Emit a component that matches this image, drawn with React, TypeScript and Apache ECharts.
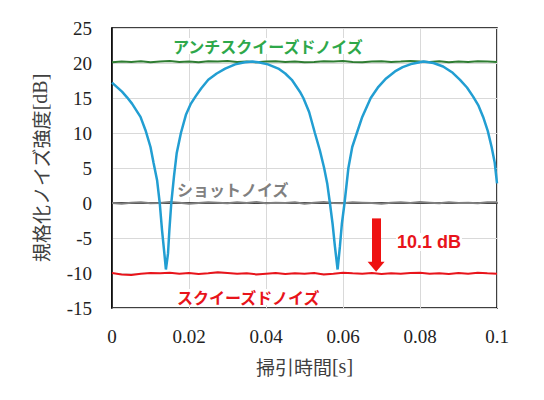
import React, { useEffect, useRef } from "react";
import * as echarts from "echarts";

const flatX = [
  0, 0.0025, 0.005, 0.0075, 0.01, 0.0125, 0.015, 0.0175, 0.02, 0.0225,
  0.025, 0.0275, 0.03, 0.0325, 0.035, 0.0375, 0.04, 0.0425, 0.045, 0.0475,
  0.05, 0.0525, 0.055, 0.0575, 0.06, 0.0625, 0.065, 0.0675, 0.07, 0.0725,
  0.075, 0.0775, 0.08, 0.0825, 0.085, 0.0875, 0.09, 0.0925, 0.095, 0.0975, 0.1,
];

const antiSqueezed = [
  20.1, 20.2, 20.15, 20.25, 20.1, 20.2, 20.3, 20.15, 20.2, 20.1,
  20.25, 20.2, 20.3, 20.15, 20.2, 20.1, 20.2, 20.25, 20.15, 20.2,
  20.1, 20.15, 20.25, 20.2, 20.3, 20.15, 20.1, 20.2, 20.25, 20.15,
  20.2, 20.3, 20.2, 20.15, 20.25, 20.1, 20.2, 20.15, 20.25, 20.2, 20.15,
];

const shotNoise = [
  0.0, -0.1, 0.05, 0.1, -0.05, 0.0, 0.15, 0.05, -0.1, 0.0,
  0.1, 0.05, -0.05, 0.1, 0.0, 0.15, -0.05, 0.05, 0.0, 0.1,
  -0.1, 0.05, 0.15, 0.0, -0.05, 0.1, 0.05, 0.0, -0.1, 0.05,
  0.1, 0.0, 0.15, 0.05, -0.05, 0.1, 0.0, 0.05, -0.05, 0.1, 0.1,
];

const squeezed = [
  -10.0, -10.2, -10.3, -10.1, -10.0, -10.05, -9.95, -10.1, -10.0, -10.15,
  -10.05, -9.9, -10.0, -10.1, -10.05, -10.2, -10.1, -10.0, -10.15, -10.05,
  -10.1, -10.0, -10.2, -10.1, -9.95, -10.05, -10.1, -10.0, -10.15, -10.05,
  -10.1, -10.0, -9.95, -10.1, -10.05, -10.15, -10.0, -10.1, -9.95, -10.05, -10.1,
];

const sweepX = [
  0, 0.0026, 0.0039, 0.0052, 0.0074, 0.0087, 0.01, 0.0108, 0.0117, 0.0124,
  0.013, 0.0136, 0.014, 0.01455, 0.0149, 0.0154, 0.0161, 0.0168, 0.0179, 0.0192,
  0.0205, 0.0218, 0.0232, 0.025, 0.0272, 0.0294, 0.032, 0.0345, 0.0365, 0.038,
  0.0405, 0.0432, 0.045, 0.0467, 0.0488, 0.0497, 0.0512, 0.0527, 0.054, 0.0551,
  0.0559, 0.0566, 0.0573, 0.0579, 0.0586, 0.0592, 0.0597, 0.0604, 0.0614, 0.0624,
  0.0636, 0.065, 0.0672, 0.0692, 0.0712, 0.0735, 0.0755, 0.078, 0.0809, 0.0835,
  0.086, 0.0885, 0.0904, 0.0922, 0.0938, 0.0952, 0.0964, 0.0976, 0.0986, 0.0994,
  0.1,
];
const sweepY = [
  17.2, 15.9, 15.1, 14.2, 12.3, 10.4, 8.0, 5.7, 3.3, 0.0,
  -3.9, -7.2, -9.5, -7.2, -3.9, 0.0, 3.8, 7.1, 10.0, 12.6,
  14.2, 15.3, 16.4, 17.6, 18.5, 19.2, 19.8, 20.1, 20.2, 20.1,
  19.8, 19.2, 18.5, 17.6, 15.9, 15.0, 13.0, 10.0, 7.5, 5.0,
  2.8, 0.0, -3.0, -6.2, -9.5, -6.2, -3.0, 0.0, 5.0, 8.0,
  10.0, 12.3, 15.0, 16.6, 17.8, 18.8, 19.4, 19.9, 20.2, 20.0,
  19.5, 18.6, 17.6, 16.5, 15.2, 13.9, 12.3, 10.3, 8.0, 5.8,
  2.8,
];

const arrowX = 0.0686;
const arrowTop = -2.2;
const arrowShaftEnd = -8.5;
const arrowHeadCenter = -9.1;

const xNameJp = "掃引時間";
const xNameUnit = "[s]";
const yNameJp = "規格化ノイズ強度";
const yNameUnit = "[dB]";
const labelAnti = "アンチスクイーズドノイズ";
const labelShot = "ショットノイズ";
const labelSq = "スクイーズドノイズ";
const labelDiff = "10.1 dB";

const pair = (xs: number[], ys: number[]) => xs.map((x, i) => [x, ys[i]]);

export default function App() {
  const ref = useRef<HTMLDivElement>(null);
  useEffect(() => {
    if (!ref.current) return;
    const chart = echarts.init(ref.current, null, { renderer: "svg" });
    const jp = "Noto Sans CJK JP";
    const nameRich = {
      j: { fontFamily: jp, fontSize: 19, color: "#404040" },
      u: { fontFamily: "Liberation Serif", fontSize: 20, color: "#404040" },
    };
    const boxText = (text: string, left: number, top: number, fill: string, font: string) => ({
      type: "text",
      left,
      top,
      z: 100,
      style: {
        text,
        fill,
        font,
        backgroundColor: "#ffffff",
        padding: [0, 1, 0, 1],
      },
    });
    chart.setOption({
      animation: false,
      backgroundColor: "#ffffff",
      grid: {
        left: 112,
        right: 47,
        top: 28,
        bottom: 92,
        show: true,
        borderColor: "#000",
        borderWidth: 1.5,
      },
      xAxis: {
        type: "value",
        min: 0,
        max: 0.1,
        interval: 0.02,
        name: `{j|${xNameJp}}{u|${xNameUnit}}`,
        nameLocation: "middle",
        nameGap: 48,
        nameTextStyle: { fontSize: 20, color: "#404040", rich: nameRich },
        axisLine: { show: true, lineStyle: { color: "#000", width: 1.5 } },
        axisTick: { show: false },
        axisLabel: {
          margin: 19,
          fontFamily: "Liberation Serif",
          fontSize: 19,
          color: "#222",
          formatter: (v: number) => String(+v.toFixed(2)),
        },
        splitLine: { show: true, lineStyle: { color: "#d9d9d9", width: 1 } },
      },
      yAxis: {
        type: "value",
        min: -15,
        max: 25,
        interval: 5,
        name: `{j|${yNameJp}}{u|${yNameUnit}}`,
        nameLocation: "middle",
        nameGap: 62,
        nameRotate: 90,
        nameTextStyle: { fontSize: 20, color: "#404040", rich: nameRich },
        axisLine: { show: true, lineStyle: { color: "#000", width: 1.5 } },
        axisTick: { show: false },
        axisLabel: { margin: 20, fontFamily: "Liberation Serif", fontSize: 19, color: "#222" },
        splitLine: { show: true, lineStyle: { color: "#d9d9d9", width: 1 } },
      },
      series: [
        {
          type: "line",
          data: pair(flatX, antiSqueezed),
          showSymbol: false,
          lineStyle: { color: "#2f7d32", width: 2 },
        },
        {
          type: "line",
          data: pair(flatX, shotNoise),
          showSymbol: false,
          lineStyle: { color: "#808080", width: 2 },
        },
        {
          type: "line",
          data: pair(flatX, squeezed),
          showSymbol: false,
          lineStyle: { color: "#e8141b", width: 2 },
          markLine: {
            silent: true,
            symbol: ["none", "none"],
            label: { show: false },
            lineStyle: { color: "#ee1111", width: 9, type: "solid" },
            data: [[{ coord: [arrowX, arrowTop] }, { coord: [arrowX, arrowShaftEnd] }]],
          },
          markPoint: {
            silent: true,
            symbol: "triangle",
            symbolSize: [17, 10],
            symbolRotate: 180,
            label: { show: false },
            itemStyle: { color: "#ee1111" },
            data: [{ coord: [arrowX, arrowHeadCenter] }],
          },
        },
        {
          type: "line",
          data: pair(sweepX, sweepY),
          showSymbol: false,
          lineStyle: { color: "#229ed2", width: 2.5 },
        },
      ],
      graphic: [
        boxText(labelAnti, 172, 38, "#2ea84a", `bold 16px ${jp}`),
        boxText(labelShot, 176, 181, "#808080", `bold 16px ${jp}`),
        boxText(labelSq, 176, 289, "#e8141b", `bold 16px ${jp}`),
        boxText(labelDiff, 396, 233, "#e8141b", "bold 18px Liberation Sans"),
      ],
    });
    return () => chart.dispose();
  }, []);
  return (
    <div
      ref={ref}
      style={{ position: "fixed", left: 0, top: 0, width: 544, height: 400 }}
    />
  );
}
